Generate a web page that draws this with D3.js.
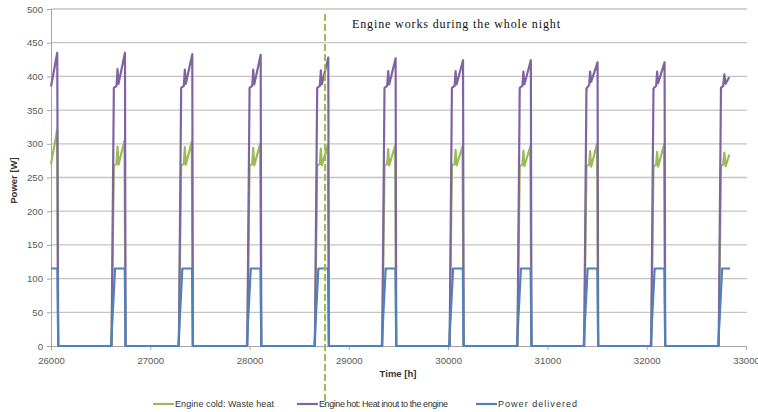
<!DOCTYPE html>
<html lang="en">
<head>
<meta charset="UTF-8">
<title>Engine power</title>
<script src="https://cdn.jsdelivr.net/npm/d3@7"></script>
<style>
  body { margin: 0; background: #fff; }
</style>
</head>
<body>
<script>
// values: [time h, power W]
var wasteHeat = [
  [26000,270],[26062,320],[26072,0],
  [26610,0],[26633,268],[26660,270],[26670,296],[26680,269],[26740,305],[26751,0],
  [27288,0],[27311,268],[27338,270],[27348,295],[27358,269],[27418,303],[27429,0],
  [27977,0],[28000,268],[28027,270],[28037,294],[28047,268],[28107,300],[28118,0],
  [28658,0],[28681,268],[28708,270],[28718,293],[28728,268],[28788,298],[28799,0],
  [29336,0],[29359,268],[29386,270],[29396,292],[29406,268],[29466,297],[29477,0],
  [30015,0],[30038,268],[30065,270],[30075,291],[30085,268],[30145,296],[30156,0],
  [30698,0],[30721,267],[30748,269],[30758,290],[30768,267],[30828,296],[30839,0],
  [31370,0],[31393,267],[31420,269],[31430,289],[31440,266],[31500,300],[31511,0],
  [32045,0],[32068,267],[32095,269],[32105,288],[32115,266],[32175,299],[32186,0],
  [32725,0],[32748,267],[32770,269],[32782,287],[32795,267],[32832,284]
];
var heatInput = [
  [26000,385],[26063,435],[26072,0],
  [26610,0],[26633,383],[26660,386],[26670,411],[26680,389],[26745,435],[26751,0],
  [27288,0],[27311,383],[27338,386],[27348,410],[27358,389],[27423,433],[27429,0],
  [27977,0],[28000,383],[28027,386],[28037,410],[28047,388],[28112,432],[28118,0],
  [28658,0],[28681,383],[28708,386],[28718,409],[28728,388],[28793,428],[28799,0],
  [29336,0],[29359,383],[29386,386],[29396,408],[29406,388],[29471,427],[29477,0],
  [30015,0],[30038,383],[30065,386],[30075,408],[30085,388],[30150,424],[30156,0],
  [30698,0],[30721,383],[30748,386],[30758,407],[30768,388],[30833,424],[30839,0],
  [31370,0],[31393,382],[31420,387],[31430,407],[31440,392],[31505,421],[31511,0],
  [32045,0],[32068,382],[32095,386],[32105,407],[32115,390],[32180,421],[32186,0],
  [32725,0],[32748,383],[32770,386],[32782,403],[32795,389],[32832,399]
];
var powerDelivered = [
  [26000,115],[26065,115],[26073,0],
  [26605,0],[26645,115],[26743,115],[26751,0],
  [27283,0],[27323,115],[27421,115],[27429,0],
  [27972,0],[28012,115],[28110,115],[28118,0],
  [28653,0],[28693,115],[28791,115],[28799,0],
  [29331,0],[29371,115],[29469,115],[29477,0],
  [30010,0],[30050,115],[30148,115],[30156,0],
  [30693,0],[30733,115],[30831,115],[30839,0],
  [31365,0],[31405,115],[31503,115],[31511,0],
  [32040,0],[32080,115],[32178,115],[32186,0],
  [32720,0],[32760,115],[32840,115]
];
var seriesNames = ["Engine cold: Waste heat", "Engine hot: Heat inout to the engine", "Power delivered"];
var seriesColors = ["#9bbb59", "#8064a2", "#4f81bd"];
var xTicks = [26000, 27000, 28000, 29000, 30000, 31000, 32000, 33000];
var yTicks = [0, 50, 100, 150, 200, 250, 300, 350, 400, 450, 500];
var nightStart = 28760;
var noteText = "Engine works during the whole night";

var w = 758, h = 412;
var plotLeft = 51, plotRight = 746, plotTop = 9, plotBottom = 346;
var sans = "Liberation Sans, Arial, sans-serif";

var svg = d3.select("body").append("svg")
  .attr("width", w).attr("height", h);

var x = d3.scaleLinear().domain([26000, 33000]).range([plotLeft, plotRight]);
var y = d3.scaleLinear().domain([0, 500]).range([plotBottom, plotTop]);

// horizontal gridlines
svg.append("g")
  .selectAll("line")
  .data(yTicks.slice(1))
  .enter().append("line")
  .attr("x1", plotLeft).attr("x2", plotRight + 1)
  .attr("y1", function(d) { return y(d); })
  .attr("y2", function(d) { return y(d); })
  .attr("stroke", "#c4c4c4").attr("stroke-width", 1.3);

// y axis
var yAxis = svg.append("g")
  .attr("transform", "translate(" + plotLeft + ",0)")
  .call(d3.axisLeft(y).tickValues(yTicks).tickSize(4).tickPadding(4));
yAxis.select(".domain").attr("stroke", "#a6a6a6");
yAxis.selectAll(".tick line").attr("stroke", "#a6a6a6");
yAxis.selectAll("text").attr("fill", "#595959").attr("font-size", "9.6px")
  .attr("font-family", sans);

// x axis
var xAxis = svg.append("g")
  .attr("transform", "translate(0," + plotBottom + ")")
  .call(d3.axisBottom(x).tickValues(xTicks).tickFormat(d3.format("d")).tickSize(4).tickPadding(7));
xAxis.select(".domain").attr("stroke", "#a6a6a6");
xAxis.selectAll(".tick line").attr("stroke", "#a6a6a6");
xAxis.selectAll("text").attr("fill", "#595959").attr("font-size", "9.6px")
  .attr("font-family", sans);

// axis titles
svg.append("text")
  .attr("transform", "translate(17," + ((plotTop + plotBottom) / 2 + 3) + ") rotate(-90)")
  .attr("text-anchor", "middle")
  .attr("font-family", sans)
  .attr("font-size", "9.5px").attr("font-weight", "bold").attr("fill", "#333")
  .text("Power [W]");

svg.append("text")
  .attr("x", 398).attr("y", 377)
  .attr("text-anchor", "middle")
  .attr("font-family", sans)
  .attr("font-size", "9.5px").attr("font-weight", "bold").attr("fill", "#333")
  .text("Time [h]");

// series
var line = d3.line()
  .x(function(d) { return x(d[0]); })
  .y(function(d) { return y(d[1]); });

var allSeries = [wasteHeat, heatInput, powerDelivered];
svg.append("g")
  .selectAll("path")
  .data(allSeries)
  .enter().append("path")
  .attr("d", line)
  .attr("fill", "none")
  .attr("stroke", function(d, i) { return seriesColors[i]; })
  .attr("stroke-width", 2.2)
  .attr("stroke-linejoin", "round");

// night marker
svg.append("line")
  .attr("x1", x(nightStart)).attr("x2", x(nightStart))
  .attr("y1", plotTop + 5).attr("y2", plotBottom + 59)
  .attr("stroke", "#9bbb59").attr("stroke-width", 2)
  .attr("stroke-dasharray", "7,3");

svg.append("text")
  .attr("x", 352).attr("y", 28)
  .attr("font-family", "Liberation Serif, serif")
  .attr("font-size", "12px").attr("fill", "#111")
  .attr("textLength", 208).attr("lengthAdjust", "spacing")
  .text(noteText);

// legend
var legendX = [153, 297, 476];
var legendTextW = [99, 129, 79];
var legend = svg.append("g")
  .selectAll("g")
  .data(seriesNames)
  .enter().append("g")
  .attr("transform", function(d, i) { return "translate(" + legendX[i] + ",404)"; });

legend.append("line")
  .attr("x1", 0).attr("x2", 21)
  .attr("stroke", function(d, i) { return seriesColors[i]; })
  .attr("stroke-width", 2.2);

legend.append("text")
  .attr("x", 22).attr("y", 3)
  .attr("font-family", sans)
  .attr("font-size", "9px").attr("fill", "#333")
  .attr("textLength", function(d, i) { return legendTextW[i]; })
  .attr("lengthAdjust", "spacing")
  .text(function(d) { return d; });
</script>
</body>
</html>
